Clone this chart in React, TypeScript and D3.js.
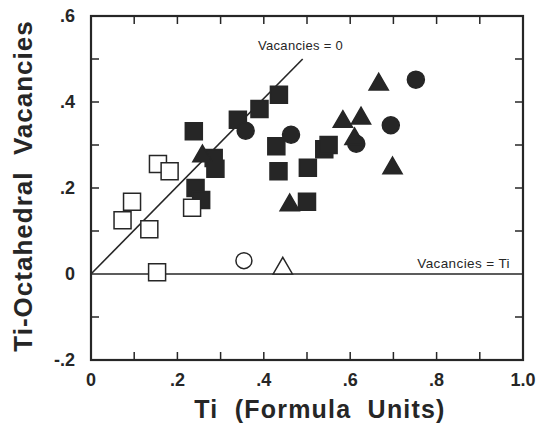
import React from 'react';
import * as d3 from 'd3';

// Ti (formula units) vs Ti-octahedral vacancies
const openSquares: [number, number][] = [
  [0.155, 0.256], [0.182, 0.239], [0.095, 0.168], [0.073, 0.125],
  [0.135, 0.104], [0.234, 0.154], [0.153, 0.004],
];
const filledSquares: [number, number][] = [
  [0.238, 0.332], [0.435, 0.417], [0.39, 0.384], [0.34, 0.359],
  [0.284, 0.27], [0.288, 0.245], [0.242, 0.2], [0.255, 0.172],
  [0.429, 0.297], [0.434, 0.239], [0.502, 0.247], [0.54, 0.29],
  [0.55, 0.3], [0.5, 0.168],
];
const filledCircles: [number, number][] = [
  [0.358, 0.333], [0.463, 0.324], [0.752, 0.452], [0.694, 0.346], [0.614, 0.303],
];
const filledTriangles: [number, number][] = [
  [0.258, 0.274], [0.666, 0.441], [0.583, 0.354], [0.625, 0.362],
  [0.61, 0.314], [0.698, 0.246], [0.46, 0.16],
];
const openCircles: [number, number][] = [[0.354, 0.031]];
const openTriangles: [number, number][] = [[0.444, 0.013]];

const xTicks = [0, 0.2, 0.4, 0.6, 0.8, 1.0];
const xTickLabels = ['0', '.2', '.4', '.6', '.8', '1.0'];
const yTicks = [-0.2, 0, 0.2, 0.4, 0.6];
const yTickLabels = ['-.2', '0', '.2', '.4', '.6'];
const minorTicks = [-0.1, 0.1, 0.2, 0.3, 0.4, 0.5, 0.6, 0.7, 0.8, 0.9];

const ink = '#262626';
const font = '"Liberation Sans", Arial, Helvetica, sans-serif';

const App: React.FC = () => {
  const width = 537;
  const height = 432;
  const x = d3.scaleLinear().domain([0, 1]).range([91, 523]);
  const y = d3.scaleLinear().domain([-0.2, 0.6]).range([360, 16]);
  const [x0, x1] = x.range();
  const [y0, y1] = y.range();

  const square = d3.symbol().type(d3.symbolSquare).size(17 * 17)()!;
  const circle = d3.symbol().type(d3.symbolCircle).size(Math.PI * 8.5 * 8.5)()!;
  const triangle = d3.symbol().type(d3.symbolTriangle).size(160)()!;
  const smallCircle = d3.symbol().type(d3.symbolCircle).size(Math.PI * 8 * 8)()!;

  const marks = (pts: [number, number][], path: string, filled: boolean, key: string) =>
    pts.map((d, i) => (
      <path
        key={`${key}-${i}`}
        d={path}
        transform={`translate(${x(d[0])},${y(d[1])})`}
        fill={filled ? ink : '#fff'}
        stroke={ink}
        strokeWidth={1.5}
      />
    ));

  const tick = 8;
  const zeroLine = d3.line<[number, number]>().x(d => x(d[0])).y(d => y(d[1]));

  return (
    <svg width={width} height={height} style={{ position: 'absolute', left: 0, top: 0, background: '#fff' }}>
      {/* frame ticks */}
      {minorTicks.filter(v => v > 0 && v < 1).map(v => (
        <g key={`xt${v}`} stroke={ink} strokeWidth={1.5}>
          <line x1={x(v)} x2={x(v)} y1={y0} y2={y0 - tick} />
          <line x1={x(v)} x2={x(v)} y1={y1} y2={y1 + tick} />
        </g>
      ))}
      {minorTicks.filter(v => v > -0.2 && v < 0.6 && Math.abs(v) > 1e-9).map(v => (
        <g key={`yt${v}`} stroke={ink} strokeWidth={1.5}>
          <line x1={x0} x2={x0 + tick} y1={y(v)} y2={y(v)} />
          <line x1={x1} x2={x1 - tick} y1={y(v)} y2={y(v)} />
        </g>
      ))}

      {/* reference lines */}
      <path d={zeroLine([[0, 0], [0.49, 0.5]])!} stroke={ink} strokeWidth={1.6} fill="none" />
      <path d={zeroLine([[0, 0], [1, 0]])!} stroke={ink} strokeWidth={1.6} fill="none" />
      <text x={x(0.485)} y={y(0.52)} fontFamily={font} fontSize={13} letterSpacing={0.3}
        textAnchor="middle" fill={ink}>Vacancies = 0</text>
      <text x={x(0.97)} y={y(0.015)} fontFamily={font} fontSize={13.5} letterSpacing={0.4}
        textAnchor="end" fill={ink}>Vacancies = Ti</text>

      {/* data */}
      {marks(filledSquares, square, true, 'fs')}
      {marks(filledCircles, circle, true, 'fc')}
      {marks(filledTriangles, triangle, true, 'ft')}
      {marks(openSquares, square, false, 'os')}
      {marks(openCircles, smallCircle, false, 'oc')}
      {marks(openTriangles, triangle, false, 'ot')}

      <rect x={x0} y={y1} width={x1 - x0} height={y0 - y1} fill="none" stroke={ink} strokeWidth={2.2} />

      {/* tick labels */}
      {xTicks.map((v, i) => (
        <text key={`xl${v}`} x={x(v)} y={386} textAnchor="middle" fontFamily={font}
          fontWeight="bold" fontSize={18} fill={ink}>{xTickLabels[i]}</text>
      ))}
      {yTicks.map((v, i) => (
        <text key={`yl${v}`} x={75} y={y(v)} dy="0.35em" textAnchor="end" fontFamily={font}
          fontWeight="bold" fontSize={18} fill={ink}>{yTickLabels[i]}</text>
      ))}

      {/* axis titles */}
      <text x={320} y={418} textAnchor="middle" fontFamily={font} fontWeight="bold"
        fontSize={25} letterSpacing={1.2} fill={ink} style={{ whiteSpace: 'pre' }}>Ti  (Formula  Units)</text>
      <text transform="translate(32,186) rotate(-90)" textAnchor="middle" fontFamily={font}
        fontWeight="bold" fontSize={26} letterSpacing={1} fill={ink} style={{ whiteSpace: 'pre' }}>Ti-Octahedral  Vacancies</text>
    </svg>
  );
};

export default App;
